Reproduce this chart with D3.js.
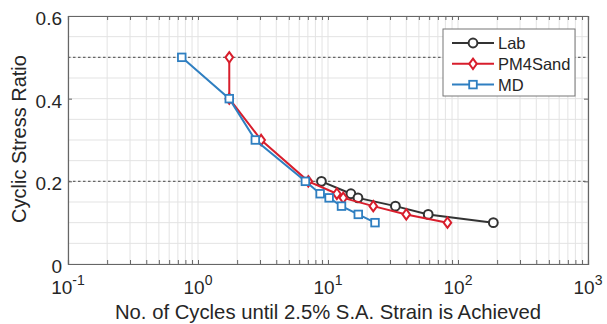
<!DOCTYPE html>
<html>
<head>
<meta charset="utf-8">
<script src="https://cdn.jsdelivr.net/npm/d3@7"></script>
<style>
  body { margin: 0; background: #fff; }
  text { font-family: "Liberation Sans", Arial, sans-serif; fill: #262626; }
</style>
</head>
<body>
<div id="chart"></div>
<script>
// cycles to 2.5% single amplitude strain vs CSR
const labCycles = [8.9, 15, 17, 33, 59, 187];
const labCSR = [0.2, 0.17, 0.16, 0.14, 0.12, 0.1];

const pmCycles = [1.74, 1.74, 3.06, 7.06, 11.7, 13.1, 22.3, 40, 83];
const pmCSR = [0.5, 0.4, 0.3, 0.2, 0.17, 0.16, 0.14, 0.12, 0.1];

const mdCycles = [0.75, 1.74, 2.76, 6.7, 8.7, 10.2, 12.7, 17.1, 23];
const mdCSR = [0.5, 0.4, 0.3, 0.2, 0.17, 0.16, 0.14, 0.12, 0.1];

const xTickExp = [-1, 0, 1, 2, 3];
const yTicks = [0, 0.2, 0.4, 0.6];
const refLines = [0.5, 0.2];

const seriesNames = ["Lab", "PM4Sand", "MD"];

const width = 607, height = 324;
const margin = {top: 16, right: 19, bottom: 60, left: 68};

const svg = d3.select("#chart").append("svg")
    .attr("width", width)
    .attr("height", height);

const x = d3.scaleLog()
    .domain([0.1, 1000])
    .range([margin.left, width - margin.right]);

const y = d3.scaleLinear()
    .domain([0, 0.6])
    .range([height - margin.bottom, margin.top]);

// minor grid
let xMinor = [];
for (let e = -1; e < 3; e++) {
    for (let k = 1; k <= 9; k++) xMinor.push(k * Math.pow(10, e));
}
xMinor.push(1000);
const yMinor = d3.range(0, 0.6001, 0.05);

const grid = svg.append("g");
grid.selectAll(".vx").data(xMinor).enter().append("line")
    .attr("x1", d => x(d)).attr("x2", d => x(d))
    .attr("y1", y(0)).attr("y2", y(0.6))
    .style("stroke", "#e3e3e3").style("stroke-width", 1);
grid.selectAll(".hy").data(yMinor).enter().append("line")
    .attr("x1", x(0.1)).attr("x2", x(1000))
    .attr("y1", d => y(d)).attr("y2", d => y(d))
    .style("stroke", "#e3e3e3").style("stroke-width", 1);

// dotted reference lines
svg.selectAll(".ref").data(refLines).enter().append("line")
    .attr("x1", x(0.1)).attr("x2", x(1000))
    .attr("y1", d => y(d)).attr("y2", d => y(d))
    .style("stroke", "#666").style("stroke-width", 1.3)
    .style("stroke-dasharray", "2.5,2.5");

// axes with inward ticks, box all round
const axColor = "#666";
const xAxis = svg.append("g")
    .attr("transform", `translate(0,${y(0)})`)
    .call(d3.axisBottom(x).tickValues(xMinor).tickSize(-4).tickFormat(""));
const xTop = svg.append("g")
    .attr("transform", `translate(0,${y(0.6)})`)
    .call(d3.axisTop(x).tickValues(xMinor).tickSize(-4).tickFormat(""));
const yAxis = svg.append("g")
    .attr("transform", `translate(${x(0.1)},0)`)
    .call(d3.axisLeft(y).tickValues(yTicks).tickSize(-4).tickFormat(""));
const yRight = svg.append("g")
    .attr("transform", `translate(${x(1000)},0)`)
    .call(d3.axisRight(y).tickValues(yTicks).tickSize(-4).tickFormat(""));
[xAxis, xTop, yAxis, yRight].forEach(g => {
    g.selectAll("path, line").style("stroke", axColor);
    g.select(".domain").style("stroke-width", 1.2);
});

// tick labels
svg.selectAll(".ylab").data(yTicks).enter().append("text")
    .attr("x", x(0.1) - 6)
    .attr("y", d => y(d) + 9)
    .attr("text-anchor", "end")
    .style("font-size", "19px")
    .text(d => d === 0 ? "0" : d.toFixed(1));

const xl = svg.selectAll(".xlab").data(xTickExp).enter().append("text")
    .attr("x", d => x(Math.pow(10, d)))
    .attr("y", y(0) + 30)
    .attr("text-anchor", "middle")
    .style("font-size", "19px");
xl.append("tspan").text("10");
xl.append("tspan").attr("dy", -9).style("font-size", "14px").text(d => d);

// axis titles
svg.append("text")
    .attr("x", (x(0.1) + x(1000)) / 2)
    .attr("y", 319)
    .attr("text-anchor", "middle")
    .style("font-size", "20.3px")
    .text("No. of Cycles until 2.5% S.A. Strain is Achieved");

svg.append("text")
    .attr("transform", `translate(26,${(y(0) + y(0.6)) / 2 - 1}) rotate(-90)`)
    .attr("text-anchor", "middle")
    .style("font-size", "20px")
    .text("Cyclic Stress Ratio");

// series
const colors = {Lab: "#333333", PM4Sand: "#d81e2c", MD: "#2f7fc1"};
const series = [
    {name: "Lab", xs: labCycles, ys: labCSR},
    {name: "PM4Sand", xs: pmCycles, ys: pmCSR},
    {name: "MD", xs: mdCycles, ys: mdCSR}
];

const line = d3.line().x(d => x(d[0])).y(d => y(d[1]));

function marker(g, name, cx, cy) {
    const c = colors[name];
    if (name === "Lab") {
        g.append("circle").attr("cx", cx).attr("cy", cy).attr("r", 4.4)
            .style("fill", "#fff").style("stroke", c).style("stroke-width", 2);
    } else if (name === "PM4Sand") {
        g.append("path")
            .attr("d", `M${cx},${cy - 5.2}L${cx + 3.8},${cy}L${cx},${cy + 5.2}L${cx - 3.8},${cy}Z`)
            .style("fill", "#fff").style("stroke", c).style("stroke-width", 2);
    } else {
        g.append("rect").attr("x", cx - 3.8).attr("y", cy - 3.8)
            .attr("width", 7.6).attr("height", 7.6)
            .style("fill", "#fff").style("stroke", c).style("stroke-width", 1.8);
    }
}

series.forEach(s => {
    const pts = s.xs.map((v, i) => [v, s.ys[i]]);
    const g = svg.append("g");
    g.append("path").datum(pts)
        .attr("d", line)
        .style("fill", "none")
        .style("stroke", colors[s.name])
        .style("stroke-width", 2);
    pts.forEach(p => marker(g, s.name, x(p[0]), y(p[1])));
});

// legend
const lg = svg.append("g").attr("transform", "translate(443,29)");
lg.append("rect").attr("width", 132).attr("height", 67)
    .style("fill", "#fff").style("stroke", "#777").style("stroke-width", 1);
seriesNames.forEach((n, i) => {
    const ly = 14 + i * 20.8;
    lg.append("line").attr("x1", 9).attr("x2", 51).attr("y1", ly).attr("y2", ly)
        .style("stroke", colors[n]).style("stroke-width", 2);
    marker(lg, n, 30, ly);
    lg.append("text").attr("x", 55).attr("y", ly + 6)
        .style("font-size", "16.5px").text(n);
});
</script>
</body>
</html>
